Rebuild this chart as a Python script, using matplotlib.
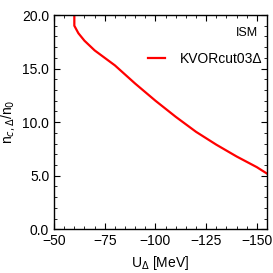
import matplotlib
matplotlib.use('Agg')
import matplotlib.pyplot as plt
from matplotlib.ticker import MultipleLocator

plt.rcParams['font.family'] = ['Liberation Sans', 'DejaVu Sans']

# critical density vs Delta potential
u_delta = [-60, -60, -62, -65, -70, -75, -80, -90, -100, -110, -120, -130, -140, -150, -155]
n_crit = [20.0, 19.0, 18.3, 17.6, 16.7, 16.0, 15.3, 13.6, 12.0, 10.5, 9.1, 7.9, 6.8, 5.8, 5.2]

fig, ax = plt.subplots(figsize=(2.73, 2.73), dpi=100)
fig.subplots_adjust(left=0.198, right=0.978, top=0.945, bottom=0.16)

ax.plot(u_delta, n_crit, color='red', lw=1.6, label='KVORcut03Δ')

ax.set_xlim(-50, -155)
ax.set_ylim(0, 20)
ax.xaxis.set_major_locator(MultipleLocator(25))
ax.xaxis.set_minor_locator(MultipleLocator(5))
ax.yaxis.set_major_locator(MultipleLocator(5))
ax.yaxis.set_minor_locator(MultipleLocator(1))
ax.yaxis.set_major_formatter(plt.FormatStrFormatter('%.1f'))
ax.tick_params(which='both', direction='in', top=True, right=True, labelsize=10)
ax.tick_params(which='major', length=4)
ax.tick_params(which='minor', length=2)
for s in ax.spines.values():
    s.set_linewidth(1.0)

ax.set_xlabel(r'U$_\Delta$ [MeV]', fontsize=10)
ax.set_ylabel(r'n$_{c,\Delta}$/n$_0$', fontsize=10)

ax.text(0.96, 0.916, 'ISM', transform=ax.transAxes, ha='right', va='center', fontsize=9)
ax.legend(loc='center right', bbox_to_anchor=(0.985, 0.794), frameon=False, fontsize=10,
          handlelength=1.2, handletextpad=1.1, borderaxespad=0, borderpad=0.1)

fig.savefig('out.png', dpi=100)
